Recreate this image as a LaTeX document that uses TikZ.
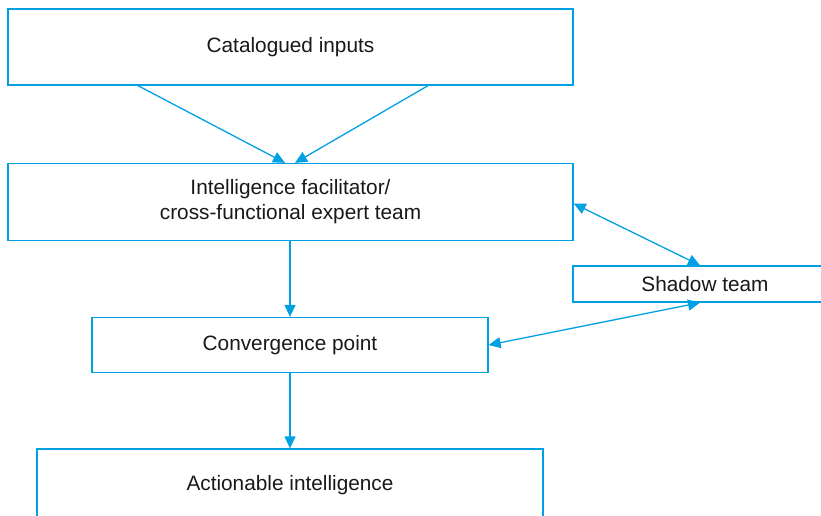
\documentclass[tikz,border=0pt]{standalone}
\usepackage{fontspec}
\setmainfont{Liberation Sans}
\usetikzlibrary{arrows.meta}
\definecolor{lineblue}{HTML}{00A0E3}
\tikzset{
  box/.style={draw=lineblue, line width=1.3pt, fill=white, inner sep=0pt, align=center,
    font=\fontsize{20.8}{25}\selectfont, text=black!90},
  tip/.tip={Triangle[length=12pt,width=11pt]},
  arr/.style={draw=lineblue, line width=1.3pt, -tip},
  darr/.style={draw=lineblue, line width=1.3pt, tip-tip}
}
\begin{document}
\begin{tikzpicture}[x=1pt,y=-1pt]
\useasboundingbox (0,0) rectangle (821,515);
\clip (0,0) rectangle (821,515);
\node[box, minimum width=565pt, minimum height=76pt] (cat) at (290.5,47) {Catalogued inputs};
\node[box, minimum width=565pt, minimum height=77pt] (intel) at (290.5,202) {Intelligence facilitator/\\cross-functional expert team};
\node[box, minimum width=320pt, minimum height=36pt] (shadow) at (733,284) {Shadow team\hspace{56pt}};
\node[box, minimum width=396pt, minimum height=55pt] (conv) at (290,345) {Convergence point};
\node[box, minimum width=506pt, minimum height=72pt] (act) at (290,485) {Actionable intelligence};
\draw[arr] ([xshift=-152.5pt]cat.south) -- ([xshift=-5.5pt]intel.north);
\draw[arr] ([xshift=137.5pt]cat.south) -- ([xshift=4.5pt]intel.north);
\draw[darr] ([yshift=-1.5pt]intel.east) -- ([xshift=-33pt]shadow.north);
\draw[darr] (conv.east) -- ([xshift=-33pt]shadow.south);
\draw[arr] ([xshift=-0.5pt]intel.south) -- (conv.north);
\draw[arr] (conv.south) -- (act.north);
\end{tikzpicture}
\end{document}
